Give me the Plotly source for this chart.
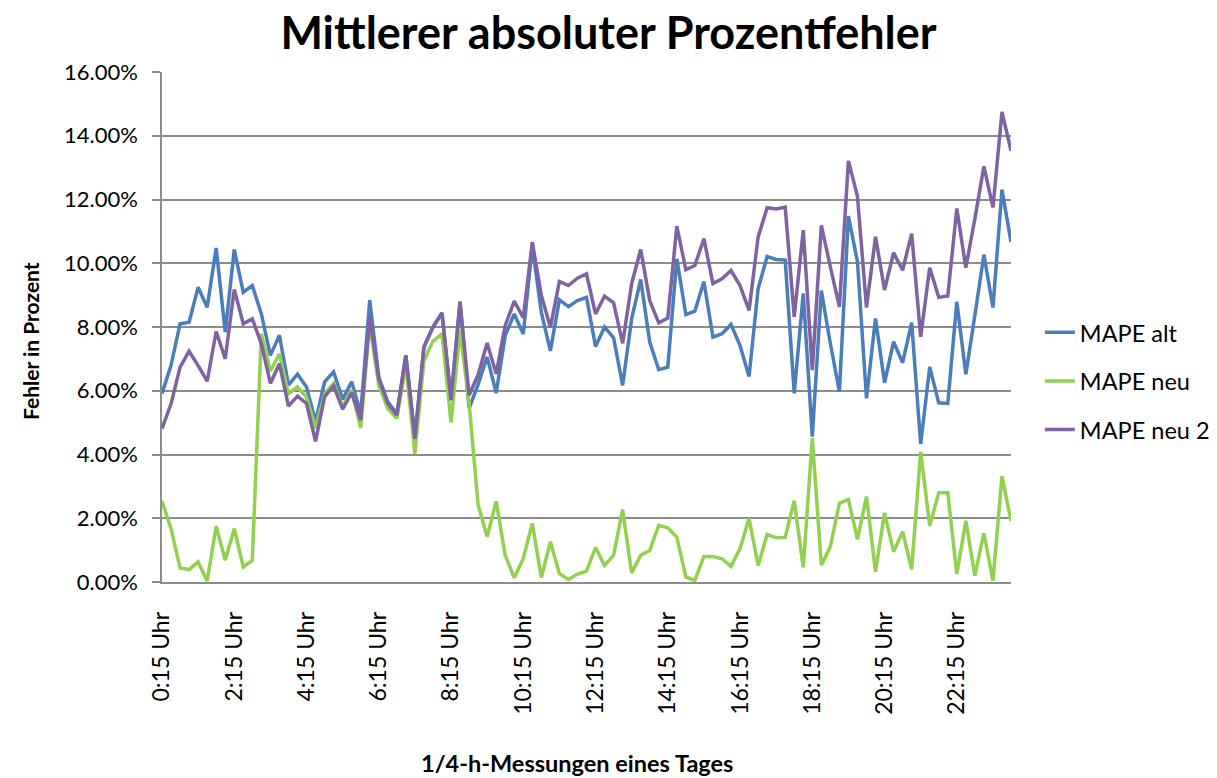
import plotly.graph_objects as go

# categories: quarter-hour measurements 0:15 .. 23:45
times = [f"{(q * 15) // 60}:{(q * 15) % 60:02d} Uhr" for q in range(1, 96)]
tick_labels = ["0:15 Uhr", "2:15 Uhr", "4:15 Uhr", "6:15 Uhr", "8:15 Uhr", "10:15 Uhr",
               "12:15 Uhr", "14:15 Uhr", "16:15 Uhr", "18:15 Uhr", "20:15 Uhr", "22:15 Uhr"]

mape_alt = [5.91, 6.80, 8.10, 8.15, 9.25, 8.62, 10.48, 7.84, 10.43, 9.09,
            9.30, 8.41, 7.11, 7.74, 6.18, 6.52, 6.12, 5.03, 6.28, 6.59,
            5.73, 6.28, 5.29, 8.84, 6.43, 5.65, 5.28, 7.11, 4.55, 7.37,
            8.00, 8.44, 5.75, 8.80, 5.45, 6.20, 7.06, 5.93, 7.73, 8.41,
            7.78, 10.55, 8.46, 7.25, 8.85, 8.64, 8.83, 8.93, 7.39, 8.00,
            7.66, 6.17, 8.26, 9.49, 7.53, 6.66, 6.74, 10.14, 8.39, 8.50,
            9.43, 7.68, 7.79, 8.08, 7.42, 6.45, 9.20, 10.21, 10.12, 10.10,
            5.92, 9.05, 4.56, 9.14, 7.48, 5.97, 11.48, 10.05, 5.76, 8.27,
            6.25, 7.54, 6.88, 8.14, 4.33, 6.75, 5.62, 5.60, 8.79, 6.52,
            8.37, 10.27, 8.61, 12.31, 10.67]

mape_neu = [2.54, 1.67, 0.44, 0.39, 0.63, 0.03, 1.75, 0.68, 1.67, 0.47,
            0.68, 7.79, 6.62, 7.16, 5.90, 6.12, 5.80, 4.82, 5.90, 6.23,
            5.50, 6.02, 4.83, 8.10, 6.17, 5.44, 5.13, 6.80, 4.02, 6.95,
            7.55, 7.79, 5.00, 7.90, 5.60, 2.42, 1.42, 2.53, 0.84, 0.13,
            0.74, 1.84, 0.14, 1.26, 0.26, 0.08, 0.25, 0.34, 1.08, 0.52,
            0.84, 2.27, 0.28, 0.84, 0.99, 1.78, 1.70, 1.41, 0.16, 0.05,
            0.80, 0.80, 0.73, 0.49, 1.05, 1.99, 0.52, 1.49, 1.39, 1.40,
            2.55, 0.46, 4.51, 0.53, 1.11, 2.47, 2.59, 1.34, 2.68, 0.32,
            2.17, 0.95, 1.58, 0.40, 4.09, 1.76, 2.80, 2.80, 0.25, 1.92,
            0.20, 1.53, 0.04, 3.32, 1.92]

mape_neu2 = [4.81, 5.59, 6.74, 7.24, 6.79, 6.30, 7.86, 7.00, 9.18, 8.10,
             8.26, 7.47, 6.23, 6.85, 5.52, 5.83, 5.60, 4.41, 5.81, 6.15,
             5.42, 5.94, 5.08, 8.31, 6.38, 5.60, 5.23, 7.11, 4.49, 7.37,
             8.00, 8.44, 5.70, 8.78, 5.86, 6.50, 7.50, 6.53, 8.05, 8.81,
             8.29, 10.66, 8.99, 7.99, 9.43, 9.30, 9.53, 9.67, 8.41, 8.97,
             8.76, 7.49, 9.36, 10.43, 8.83, 8.13, 8.28, 11.16, 9.80, 9.93,
             10.77, 9.36, 9.51, 9.77, 9.30, 8.52, 10.82, 11.74, 11.70, 11.76,
             8.32, 11.04, 6.65, 11.19, 9.89, 8.63, 13.21, 12.10, 8.61, 10.83,
             9.16, 10.33, 9.78, 10.93, 7.69, 9.86, 8.93, 8.97, 11.72, 9.86,
             11.40, 13.04, 11.75, 14.75, 13.53]

series = [
    ("MAPE alt", mape_alt, "#4A7EBB"),
    ("MAPE neu", mape_neu, "#92D050"),
    ("MAPE neu 2", mape_neu2, "#7F62A1"),
]

FONT = "Lato, 'Open Sans', sans-serif"
GRID = "#8C8C8C"

fig = go.Figure()
for i, (name, vals, color) in enumerate(series):
    fig.add_trace(go.Scatter(
        x=times, y=[v / 100 for v in vals], mode="lines", name=name,
        line=dict(color=color, width=3.5), legendgroup=f"g{i}",
    ))

fig.update_layout(
    width=1217, height=778,
    margin=dict(l=162, r=206, t=72, b=196, autoexpand=False),
    plot_bgcolor="white", paper_bgcolor="white",
    font=dict(family=FONT, color="black", size=20),
    title=dict(text="<b>Mittlerer absoluter Prozentfehler</b>",
               x=0.5, xanchor="center", y=1 - 33 / 778, yanchor="middle",
               font=dict(size=45, family=FONT, color="black")),
    showlegend=True,
    legend=dict(x=1.034, xanchor="left", y=0.394, yanchor="middle",
                font=dict(size=23.5, family=FONT), tracegroupgap=15,
                bgcolor="rgba(0,0,0,0)"),
    xaxis=dict(
        type="category", range=[0, 94], tickmode="array",
        tickvals=tick_labels, ticktext=tick_labels, tickangle=-90,
        showgrid=False, showline=True, linecolor=GRID, linewidth=1.5,
        ticks="", tickfont=dict(size=23, family=FONT),
        ticklabelstandoff=19, automargin=False,
    ),
    yaxis=dict(
        range=[0, 0.16], tickvals=[0, 0.02, 0.04, 0.06, 0.08, 0.10, 0.12, 0.14, 0.16],
        tickformat=".2%", showgrid=True, gridcolor=GRID, gridwidth=1.5,
        showline=True, linecolor=GRID, linewidth=1.5,
        ticks="outside", ticklen=8, tickcolor=GRID, tickwidth=1.5,
        tickfont=dict(size=22, family=FONT), ticklabelstandoff=10,
        zeroline=False, automargin=False,
    ),
    annotations=[
        dict(text="<b>Fehler in Prozent</b>", textangle=-90,
             xref="paper", yref="paper", x=(30 - 162) / 849, y=(582 - 341) / 510,
             xanchor="center", yanchor="middle", showarrow=False,
             font=dict(size=21, family=FONT, color="black")),
        dict(text="<b>1/4-h-Messungen eines Tages</b>",
             xref="paper", yref="paper", x=(577 - 162) / 849, y=(582 - 763) / 510,
             xanchor="center", yanchor="middle", showarrow=False,
             font=dict(size=23.5, family=FONT, color="black")),
    ],
)

fig.write_html("out.html", config={"displayModeBar": False},
               post_script="document.body.style.margin='0px';")
